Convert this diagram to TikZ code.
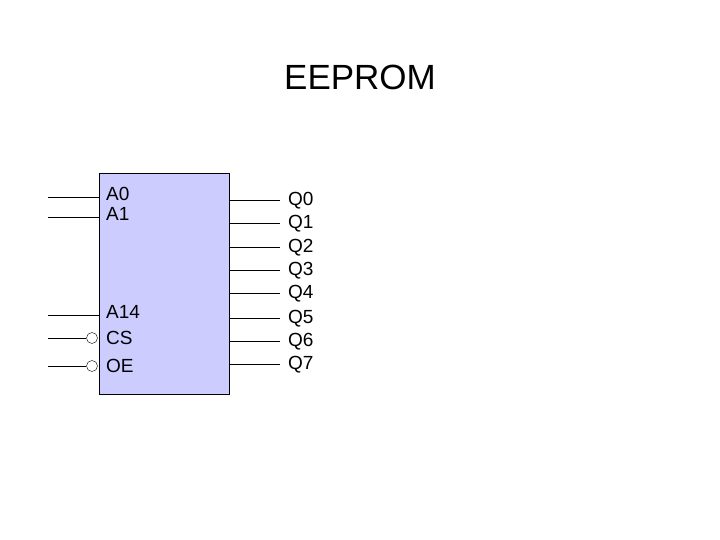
\documentclass[tikz,border=0pt]{standalone}
\usepackage{fontspec}
\setmainfont{Liberation Sans}
\begin{document}
\begin{tikzpicture}[x=1pt,y=-1pt,
  lbl/.style={anchor=west,inner sep=0pt,font=\fontsize{19}{19}\selectfont},
  wire/.style={draw=black,line width=0.8pt},
  bub/.style={circle,draw=black,fill=white,minimum size=11pt,inner sep=0pt}]
\useasboundingbox (0,0) rectangle (720,540);
\node[font=\fontsize{35}{35}\selectfont,inner sep=0pt] (t) at (360,77) {EEPROM};
\node[draw=black,fill={rgb,255:red,204;green,204;blue,255},line width=0.8pt,minimum width=130pt,minimum height=221pt,inner sep=0pt,anchor=north west] (box) at (99,173) {};
% left inputs
\foreach \n/\y/\t in {a0/197/A0,a1/217/A1,a14/315/A14}{
  \coordinate (\n s) at (48,\y); \coordinate (\n e) at (99,\y);
  \draw[wire] (\n s) -- (\n e);
  \node[lbl] (\n l) at (106,\y-3) {\t};
}
\foreach \n/\y/\t in {cs/338/CS,oe/366/OE}{
  \coordinate (\n s) at (48,\y);
  \node[bub] (\n b) at (92,\y) {};
  \draw[wire] (\n s) -- (\n b.west);
  \node[lbl] (\n l) at (106,\y) {\t};
}
% outputs
\foreach \i/\y in {0/200,1/223,2/247,3/270,4/293,5/318,6/341,7/364}{
  \coordinate (q\i s) at (229,\y); \coordinate (q\i e) at (280,\y);
  \draw[wire] (q\i s) -- (q\i e);
  \node[lbl] (q\i l) at (288,\y+1) {Q\i};
}
\end{tikzpicture}
\end{document}
